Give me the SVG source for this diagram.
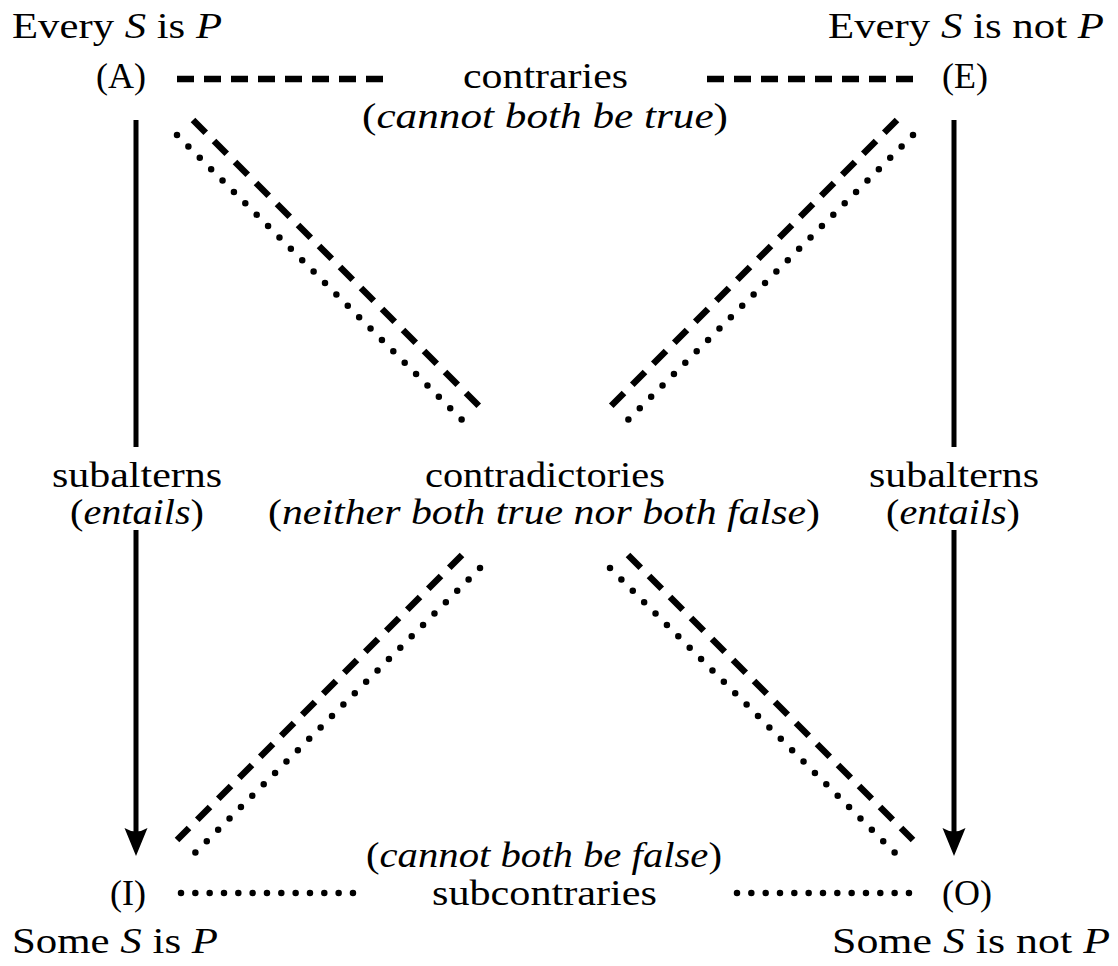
<svg xmlns="http://www.w3.org/2000/svg" width="1118" height="966" viewBox="0 0 1118 966" font-family="Liberation Serif, serif">
<style>
text{font-family:'Liberation Serif',Tinos,'Times New Roman',Times,serif;font-size:36px;fill:#000}
.i{font-style:italic}
.e{text-anchor:end}
.solid{stroke:#000;stroke-width:5;fill:none}
.dh{stroke:#000;stroke-width:6.5;fill:none;stroke-dasharray:17 10}
.dd{stroke:#000;stroke-width:6.5;fill:none;stroke-dasharray:18 11.7}
.oh{stroke:#000;stroke-width:6.5;fill:none;stroke-dasharray:0 14.33;stroke-linecap:round}
.od{stroke:#000;stroke-width:6.5;fill:none;stroke-dasharray:0 16.1;stroke-linecap:round}
.head{fill:#000}
</style>
<g id="connectors">
<path class="dh" d="M177,79 L384,79"/>
<path class="dh" d="M707,79 L914,79"/>
<path class="oh" d="M181,893 L353,893"/>
<path class="oh" d="M737,893 L909,893"/>
<path class="solid" d="M136,120 L136,447"/>
<path class="solid" d="M136,530 L136,832"/>
<path class="head" d="M136,856 L124.5,828 Q136,835 147.5,828 Z"/>
<path class="solid" d="M954,120 L954,447"/>
<path class="solid" d="M954,530 L954,832"/>
<path class="head" d="M954,856 L942.5,828 Q954,835 965.5,828 Z"/>
<path class="dd" d="M193,120 L480,407"/>
<path class="od" d="M177,135 L462,420"/>
<path class="dd" d="M628,555 L913,840"/>
<path class="od" d="M610,568 L897,855"/>
<path class="dd" d="M897,120 L610,407"/>
<path class="od" d="M913,135 L628,420"/>
<path class="dd" d="M462,555 L177,840"/>
<path class="od" d="M480,568 L193,855"/>
</g>
<g id="A">
<text x="12" y="38" textLength="210" lengthAdjust="spacingAndGlyphs">Every <tspan class="i">S</tspan> is <tspan class="i">P</tspan></text>
<text x="146" y="88" class="e">(A)</text>
</g>
<g id="E">
<text x="828" y="38" textLength="276" lengthAdjust="spacingAndGlyphs">Every <tspan class="i">S</tspan> is not <tspan class="i">P</tspan></text>
<text x="942" y="88">(E)</text>
</g>
<g id="I">
<text x="146" y="905" class="e">(I)</text>
<text x="12" y="953" textLength="206" lengthAdjust="spacingAndGlyphs">Some <tspan class="i">S</tspan> is <tspan class="i">P</tspan></text>
</g>
<g id="O">
<text x="942" y="905">(O)</text>
<text x="832" y="953" textLength="278" lengthAdjust="spacingAndGlyphs">Some <tspan class="i">S</tspan> is not <tspan class="i">P</tspan></text>
</g>
<g id="label-contraries">
<text x="463" y="88" textLength="165" lengthAdjust="spacingAndGlyphs">contraries</text>
<text x="362" y="128" textLength="366" lengthAdjust="spacingAndGlyphs">(<tspan class="i">cannot both be true</tspan>)</text>
</g>
<g id="label-subalterns-left">
<text x="52" y="487" textLength="170" lengthAdjust="spacingAndGlyphs">subalterns</text>
<text x="70" y="524" textLength="134" lengthAdjust="spacingAndGlyphs">(<tspan class="i">entails</tspan>)</text>
</g>
<g id="label-contradictories">
<text x="425" y="487" textLength="240" lengthAdjust="spacingAndGlyphs">contradictories</text>
<text x="268" y="524" textLength="552" lengthAdjust="spacingAndGlyphs">(<tspan class="i">neither both true nor both false</tspan>)</text>
</g>
<g id="label-subalterns-right">
<text x="869" y="487" textLength="170" lengthAdjust="spacingAndGlyphs">subalterns</text>
<text x="886" y="524" textLength="134" lengthAdjust="spacingAndGlyphs">(<tspan class="i">entails</tspan>)</text>
</g>
<g id="label-subcontraries">
<text x="366" y="867" textLength="356" lengthAdjust="spacingAndGlyphs">(<tspan class="i">cannot both be false</tspan>)</text>
<text x="432" y="905" textLength="225" lengthAdjust="spacingAndGlyphs">subcontraries</text>
</g>
</svg>
